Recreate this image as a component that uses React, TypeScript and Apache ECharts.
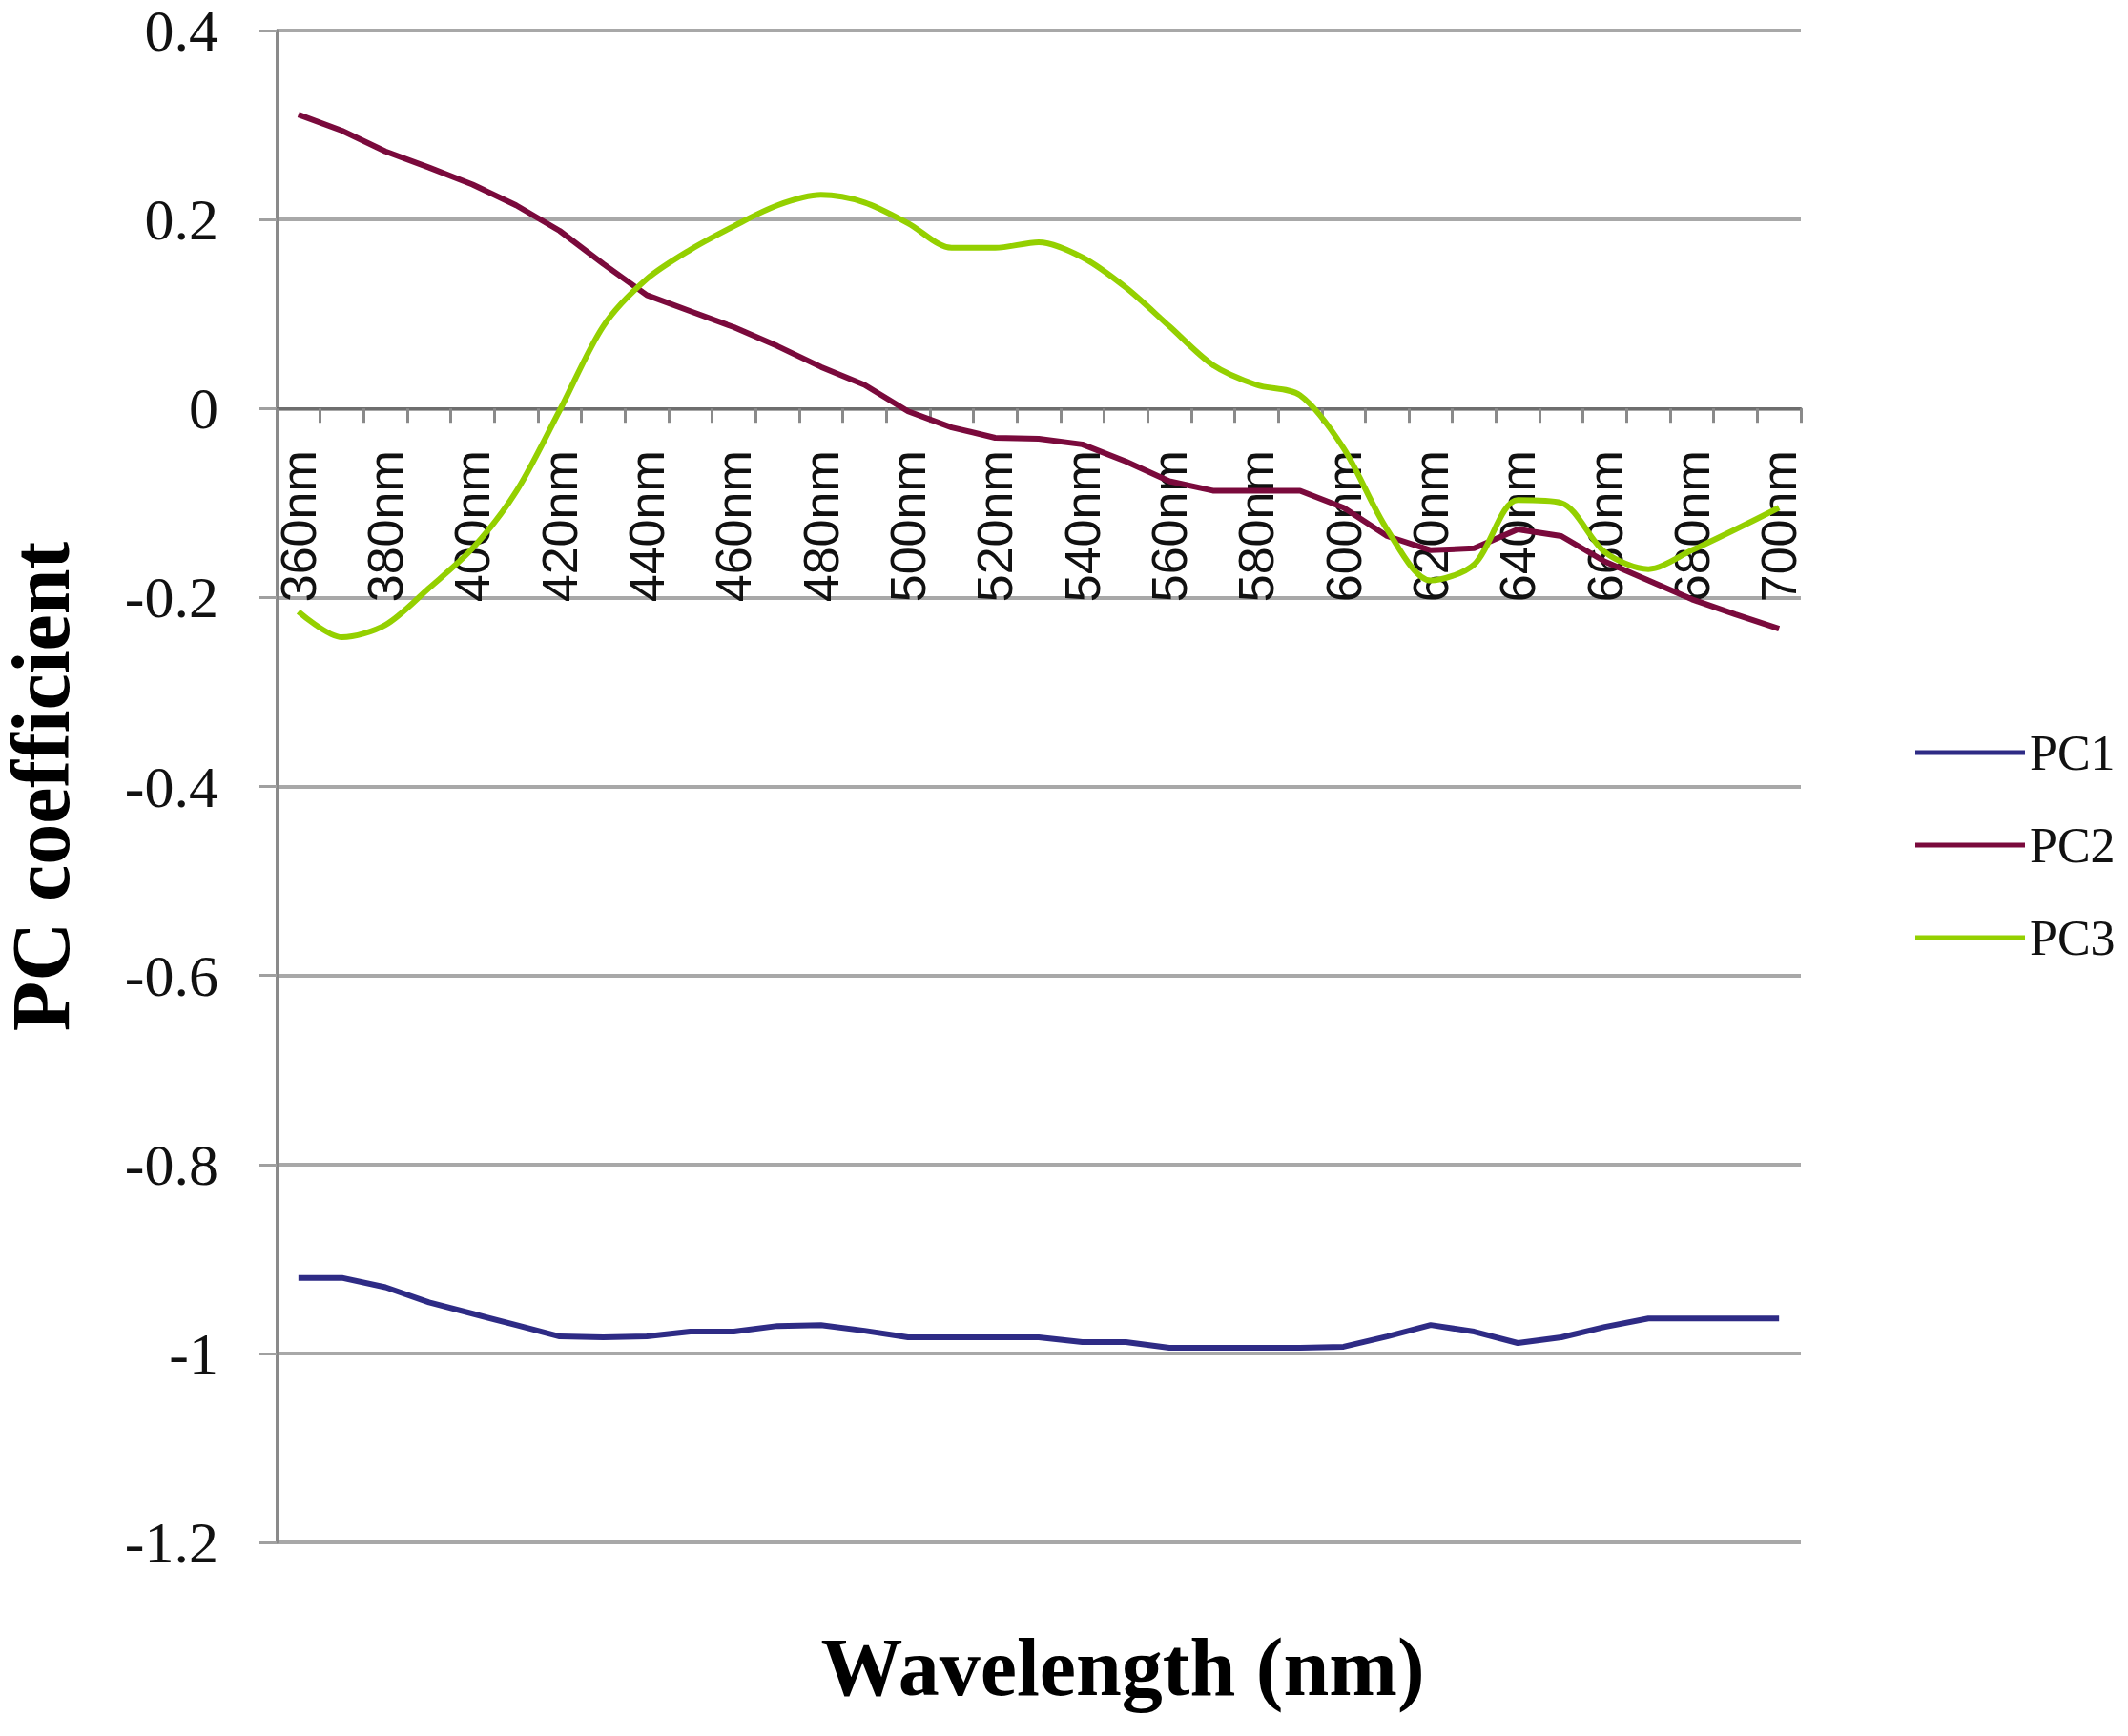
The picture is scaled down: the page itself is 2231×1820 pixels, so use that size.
import React, { useEffect, useRef } from "react";
import * as echarts from "echarts";

const wavelengths = [
  360, 370, 380, 390, 400, 410, 420, 430, 440, 450, 460, 470, 480, 490, 500, 510, 520, 530,
  540, 550, 560, 570, 580, 590, 600, 610, 620, 630, 640, 650, 660, 670, 680, 690, 700,
];
const categories = wavelengths.map((w) => `${w}nm`);

const pc1 = [
  -0.92, -0.92, -0.93, -0.946, -0.958, -0.97, -0.982, -0.983, -0.982, -0.977, -0.977, -0.971,
  -0.97, -0.976, -0.983, -0.983, -0.983, -0.983, -0.988, -0.988, -0.994, -0.994, -0.994, -0.994,
  -0.993, -0.982, -0.97, -0.977, -0.989, -0.983, -0.972, -0.963, -0.963, -0.963, -0.963,
];
const pc2 = [
  0.311, 0.294, 0.272, 0.255, 0.237, 0.215, 0.188, 0.153, 0.12, 0.103, 0.086, 0.066, 0.044,
  0.025, -0.003, -0.02, -0.031, -0.032, -0.038, -0.056, -0.077, -0.087, -0.087, -0.087, -0.105,
  -0.135, -0.15, -0.148, -0.128, -0.135, -0.162, -0.182, -0.202, -0.218, -0.233,
];
const pc3 = [
  -0.215, -0.242, -0.229, -0.19, -0.148, -0.088, -0.002, 0.087, 0.137, 0.168, 0.193, 0.215,
  0.226, 0.218, 0.196, 0.17, 0.17, 0.176, 0.16, 0.128, 0.087, 0.046, 0.025, 0.014, -0.042,
  -0.128, -0.182, -0.165, -0.097, -0.1, -0.152, -0.17, -0.15, -0.128, -0.105,
];

const seriesNames = ["PC1", "PC2", "PC3"];
const seriesColors = ["#2e2b85", "#7a0a3c", "#94d000"];

const Y_MIN = -1.2;
const Y_MAX = 0.4;
const GRID_TOP = 32;
const GRID_BOTTOM = 203;
const CHART_H = 1820;

export default function App() {
  const ref = useRef<HTMLDivElement>(null);

  useEffect(() => {
    if (!ref.current) return;
    const chart = echarts.init(ref.current, null, { renderer: "svg" });
    const data = [pc1, pc2, pc3];
    const plotH = CHART_H - GRID_TOP - GRID_BOTTOM;
    // distance from the bottom of the grid up to the zero line
    const zeroOffset = -((0 - Y_MIN) / (Y_MAX - Y_MIN)) * plotH;
    chart.setOption({
      animation: false,
      backgroundColor: "#ffffff",
      grid: {
        left: 290,
        right: 343,
        top: GRID_TOP,
        bottom: GRID_BOTTOM,
        containLabel: false,
        outerBoundsMode: "none",
      },
      legend: {
        orient: "vertical",
        left: 2003,
        top: 756,
        icon: "rect",
        itemWidth: 115,
        itemHeight: 5,
        itemGap: 41,
        data: seriesNames,
        textStyle: {
          fontFamily: "Liberation Serif",
          fontSize: 52,
          lineHeight: 56,
          color: "#111",
        },
      },
      xAxis: {
        type: "category",
        data: categories,
        boundaryGap: true,
        offset: zeroOffset,
        axisLine: { onZero: false, lineStyle: { color: "#6e6e6e", width: 3 } },
        axisTick: {
          show: true,
          interval: 0,
          length: 15,
          lineStyle: { color: "#8a8a8a", width: 3 },
        },
        axisLabel: {
          interval: 1,
          rotate: 90,
          margin: 44,
          fontFamily: "Liberation Sans",
          fontSize: 52,
          color: "#111",
        },
        splitLine: { show: false },
      },
      yAxis: {
        type: "value",
        min: Y_MIN,
        max: Y_MAX,
        interval: 0.2,
        name: "PC coefficient",
        nameLocation: "middle",
        nameGap: 212,
        nameTextStyle: {
          fontFamily: "Liberation Serif",
          fontSize: 86,
          lineHeight: 70,
          fontWeight: "bold",
          color: "#000",
        },
        axisLine: { show: true, lineStyle: { color: "#8a8a8a", width: 3 } },
        axisTick: { show: true, length: 18, lineStyle: { color: "#a0a0a0", width: 3 } },
        splitLine: { show: true, lineStyle: { color: "#a8a8a8", width: 4 } },
        axisLabel: {
          margin: 61,
          fontFamily: "Liberation Serif",
          fontSize: 62,
          lineHeight: 50,
          padding: [12, 0, 0, 0],
          color: "#111",
        },
      },
      graphic: [
        {
          type: "text",
          x: 1177,
          y: 1748,
          style: {
            text: "Wavelength (nm)",
            fontFamily: "Liberation Serif",
            fontSize: 86,
            fontWeight: "bold",
            fill: "#000",
            textAlign: "center",
            textVerticalAlign: "middle",
          },
        },
      ],
      series: seriesNames.map((name, i) => ({
        name,
        type: "line",
        data: data[i],
        showSymbol: false,
        smooth: i === 2 ? 0.3 : false,
        color: seriesColors[i],
        lineStyle: { color: seriesColors[i], width: 6 },
      })),
    });
    return () => chart.dispose();
  }, []);

  return (
    <div
      ref={ref}
      style={{ position: "absolute", left: 0, top: 0, width: 2231, height: 1820, background: "#fff" }}
    />
  );
}
